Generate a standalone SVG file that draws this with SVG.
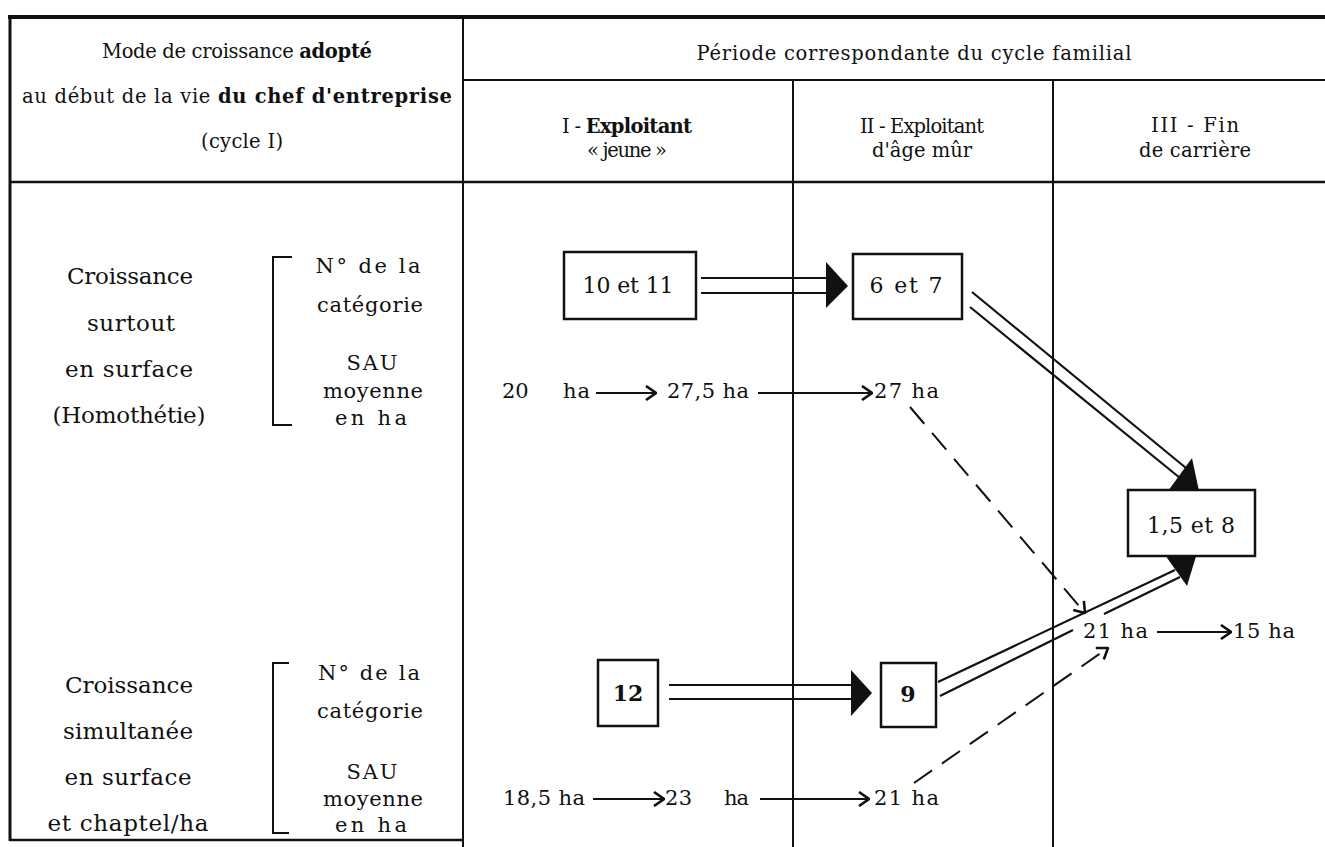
<svg xmlns="http://www.w3.org/2000/svg" width="1325" height="847" viewBox="0 0 1325 847">
<style>
text{font-family:"DejaVu Serif","Liberation Serif",serif;fill:#111}
.h{font-size:19.5px;text-anchor:middle}
.b{font-size:23px;text-anchor:middle}
.s{font-size:21px;text-anchor:middle}
.n{font-size:22px;text-anchor:middle}
.d{font-size:21px}
.bold{font-weight:bold}
.grid line{stroke:#111;stroke-width:2}
.box{fill:#fff;stroke:#111;stroke-width:2.5}
.dbl{stroke:#111;stroke-width:2.2;fill:none}
.head{fill:#111;stroke:none}
.thin{stroke:#111;stroke-width:2;fill:none}
.dash{stroke:#111;stroke-width:2;fill:none;stroke-dasharray:22 12}
.brk{stroke:#111;stroke-width:2;fill:none}
</style>
<defs>
<marker id="chev" viewBox="0 0 12 16" refX="11" refY="8" markerWidth="12" markerHeight="16" markerUnits="userSpaceOnUse" orient="auto">
<path d="M1,1 L11,8 L1,15" fill="none" stroke="#111" stroke-width="2.6" stroke-dasharray="none"/>
</marker>
</defs>
<rect width="1325" height="847" fill="#fff"/>

<g id="table" class="grid">
<line x1="8" y1="17" x2="1325" y2="17" style="stroke-width:4"/>
<line x1="10" y1="15" x2="10" y2="841" style="stroke-width:3"/>
<line x1="463" y1="17" x2="463" y2="847"/>
<line x1="463" y1="80" x2="1325" y2="80"/>
<line x1="793" y1="80" x2="793" y2="847"/>
<line x1="1053" y1="80" x2="1053" y2="847"/>
<line x1="10" y1="182" x2="1325" y2="182" style="stroke-width:2.5"/>
<line x1="10" y1="840" x2="463" y2="840" style="stroke-width:2.5"/>
</g>

<g id="header">
<text class="h" x="237" y="58" textLength="270" lengthAdjust="spacing">Mode de croissance <tspan class="bold">adopté</tspan></text>
<text class="h" x="237" y="103" textLength="430" lengthAdjust="spacing">au début de la vie <tspan class="bold">du chef d'entreprise</tspan></text>
<text class="h" x="242" y="148" textLength="82" lengthAdjust="spacing">(cycle I)</text>
<text class="h" x="914" y="60" textLength="435" lengthAdjust="spacing">Période correspondante du cycle familial</text>
<text class="h" x="627" y="133" textLength="130" lengthAdjust="spacing">I - <tspan class="bold">Exploitant</tspan></text>
<text class="h" x="627" y="157" textLength="80" lengthAdjust="spacing">« jeune »</text>
<text class="h" x="922" y="133" textLength="124" lengthAdjust="spacing">II - Exploitant</text>
<text class="h" x="922" y="157" textLength="100" lengthAdjust="spacing">d'âge mûr</text>
<text class="h" x="1195" y="132" textLength="88" lengthAdjust="spacing">III - Fin</text>
<text class="h" x="1195" y="157" textLength="112" lengthAdjust="spacing">de carrière</text>
</g>

<g id="row1-labels">
<text class="b" x="130" y="284" textLength="126" lengthAdjust="spacing">Croissance</text>
<text class="b" x="131" y="331" textLength="88" lengthAdjust="spacing">surtout</text>
<text class="b" x="129" y="377" textLength="128" lengthAdjust="spacing">en surface</text>
<text class="b" x="129" y="423" textLength="153" lengthAdjust="spacing">(Homothétie)</text>
<path class="brk" d="M292,257 H273 V425 H292"/>
<text class="s" x="368" y="273" textLength="105" lengthAdjust="spacing">N° de la</text>
<text class="s" x="370" y="312" textLength="106" lengthAdjust="spacing">catégorie</text>
<text class="s" x="372" y="370" textLength="51" lengthAdjust="spacing">SAU</text>
<text class="s" x="373" y="398" textLength="100" lengthAdjust="spacing">moyenne</text>
<text class="s" x="371" y="425" textLength="72" lengthAdjust="spacing">en ha</text>
</g>

<g id="row2-labels">
<text class="b" x="129" y="693" textLength="128" lengthAdjust="spacing">Croissance</text>
<text class="b" x="128" y="739" textLength="130" lengthAdjust="spacing">simultanée</text>
<text class="b" x="128" y="785" textLength="127" lengthAdjust="spacing">en surface</text>
<text class="b" x="128" y="831" textLength="161" lengthAdjust="spacing">et chaptel/ha</text>
<path class="brk" d="M289,663 H273 V833 H289"/>
<text class="s" x="369" y="680" textLength="102" lengthAdjust="spacing">N° de la</text>
<text class="s" x="370" y="718" textLength="106" lengthAdjust="spacing">catégorie</text>
<text class="s" x="372" y="779" textLength="51" lengthAdjust="spacing">SAU</text>
<text class="s" x="373" y="806" textLength="100" lengthAdjust="spacing">moyenne</text>
<text class="s" x="371" y="832" textLength="72" lengthAdjust="spacing">en ha</text>
</g>

<g id="connectors">
<line class="dbl" x1="701" y1="278" x2="830" y2="278"/>
<line class="dbl" x1="701" y1="293" x2="830" y2="293"/>
<polygon class="head" points="826,262 848,286 826,308"/>
<line class="dbl" x1="972" y1="292" x2="1186" y2="468"/>
<line class="dbl" x1="970" y1="307" x2="1180" y2="478"/>
<polygon class="head" points="1192,458 1199,491 1168,491"/>
<line class="dbl" x1="669" y1="685" x2="853" y2="685"/>
<line class="dbl" x1="669" y1="699" x2="853" y2="699"/>
<polygon class="head" points="851,670 872,693 851,716"/>
<line class="dbl" x1="938" y1="682" x2="1175" y2="570"/>
<line class="dbl" x1="940" y1="696" x2="1073" y2="630"/>
<line class="dbl" x1="1104" y1="614" x2="1180" y2="577"/>
<polygon class="head" points="1165,555 1197,553 1187,586"/>
<line class="thin" x1="596" y1="393" x2="656" y2="393" marker-end="url(#chev)"/>
<line class="thin" x1="758" y1="393" x2="872" y2="393" marker-end="url(#chev)"/>
<line class="thin" x1="593" y1="799" x2="664" y2="799" marker-end="url(#chev)"/>
<line class="thin" x1="760" y1="799" x2="869" y2="799" marker-end="url(#chev)"/>
<line class="thin" x1="1157" y1="632" x2="1231" y2="632" marker-end="url(#chev)"/>
<line class="dash" x1="910" y1="407" x2="1085" y2="613" marker-end="url(#chev)"/>
<line class="dash" x1="914" y1="783" x2="1108" y2="648" marker-end="url(#chev)"/>
</g>

<g id="node-10-11">
<rect class="box" x="564" y="252" width="132" height="67"/>
<text class="n" x="628" y="293" textLength="91" lengthAdjust="spacing">10 et 11</text>
</g>
<g id="node-6-7">
<rect class="box" x="853" y="254" width="109" height="65"/>
<text class="n" x="906" y="293" textLength="73" lengthAdjust="spacing">6 et 7</text>
</g>
<g id="node-1-5-8">
<rect class="box" x="1128" y="490" width="127" height="66"/>
<text class="n" x="1191" y="533" textLength="88" lengthAdjust="spacing">1,5 et 8</text>
</g>
<g id="node-12">
<rect class="box" x="598" y="660" width="60" height="66"/>
<text class="n bold" x="628" y="701">12</text>
</g>
<g id="node-9">
<rect class="box" x="881" y="663" width="55" height="64"/>
<text class="n bold" x="908" y="702">9</text>
</g>

<g id="values">
<text class="d" x="502" y="398">20</text>
<text class="d" x="563" y="398" textLength="27" lengthAdjust="spacing">ha</text>
<text class="d" x="667" y="398" textLength="82" lengthAdjust="spacing">27,5 ha</text>
<text class="d" x="874" y="398" textLength="65" lengthAdjust="spacing">27 ha</text>
<text class="d" x="503" y="805" textLength="82" lengthAdjust="spacing">18,5 ha</text>
<text class="d" x="665" y="805" textLength="27" lengthAdjust="spacing">23</text>
<text class="d" x="724" y="805" textLength="25" lengthAdjust="spacing">ha</text>
<text class="d" x="874" y="805" textLength="65" lengthAdjust="spacing">21 ha</text>
<text class="d" x="1083" y="638" textLength="65" lengthAdjust="spacing">21 ha</text>
<text class="d" x="1233" y="638" textLength="62" lengthAdjust="spacing">15 ha</text>
</g>
</svg>
